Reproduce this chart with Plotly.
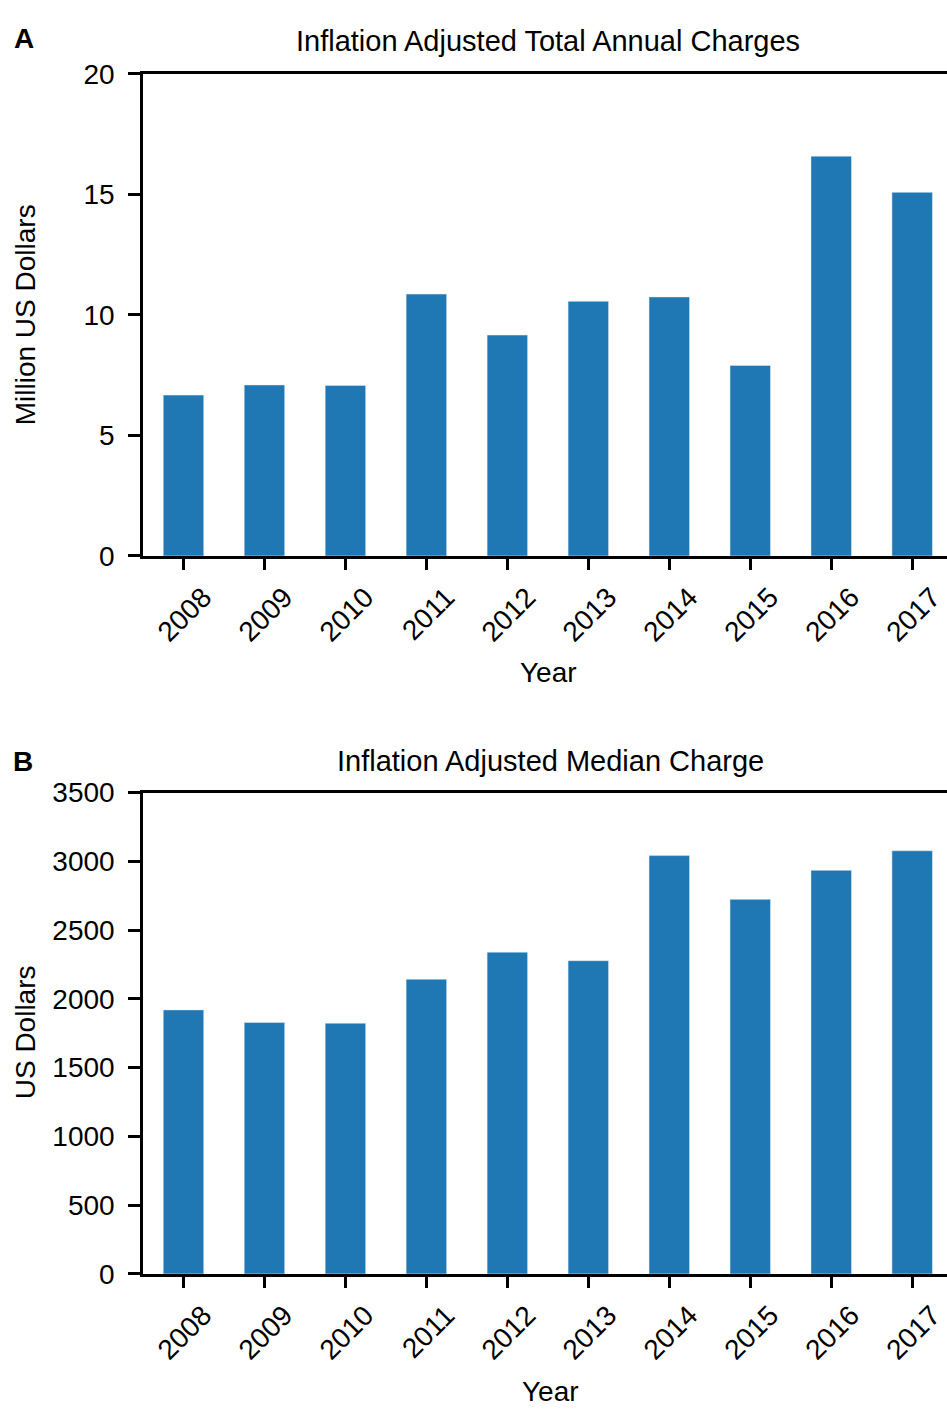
import plotly.graph_objects as go

years = ["2008", "2009", "2010", "2011", "2012", "2013", "2014", "2015", "2016", "2017"]
total_charges = [6.67, 7.09, 7.07, 10.86, 9.16, 10.56, 10.74, 7.90, 16.58, 15.08]
median_charge = [1920, 1828, 1823, 2143, 2340, 2278, 3042, 2724, 2935, 3077]

W, H = 947, 1420
FONT = "Liberation Sans, Arial, Helvetica, sans-serif"
FS = 28
BAR = "#1f77b4"

def px(x):
    return x / W

def py(y):
    return 1 - y / H

fig = go.Figure()
fig.add_trace(go.Bar(x=years, y=total_charges, marker_color=BAR, width=0.5,
                     xaxis="x", yaxis="y", showlegend=False))
fig.add_trace(go.Bar(x=years, y=median_charge, marker_color=BAR, width=0.5,
                     xaxis="x2", yaxis="y2", showlegend=False))

xcommon = dict(
    type="category", range=[-0.5, 9.43], showline=True, linecolor="black", linewidth=2.5,
    mirror=True, ticks="outside", ticklen=11, tickwidth=2.5, tickcolor="black",
    tickangle=-45, ticklabelshift=20, ticklabelstandoff=0,
    tickfont=dict(family=FONT, size=FS, color="black"), showgrid=False,
    domain=[143 / W, 1],
)
ycommon = dict(
    showline=True, linecolor="black", linewidth=2.5, mirror=False,
    ticks="outside", ticklen=12, tickwidth=2.5, tickcolor="black", ticklabelstandoff=8,
    tickfont=dict(family=FONT, size=FS, color="black"), showgrid=False, zeroline=False,
)

fig.update_layout(
    width=W, height=H,
    margin=dict(l=0, r=0, t=0, b=0),
    paper_bgcolor="white", plot_bgcolor="white",
    font=dict(family=FONT, size=FS, color="black"),
    bargap=0.5,
    xaxis=dict(**xcommon, anchor="y"),
    yaxis=dict(**ycommon, range=[0, 20], dtick=5, domain=[py(553), py(60)], anchor="x"),
    xaxis2=dict(**xcommon, anchor="y2"),
    yaxis2=dict(**ycommon, range=[0, 3500], dtick=500, domain=[py(1287), py(795)], anchor="x2"),
)

ann = [
    dict(text="<b>A</b>", x=px(24), y=py(24), size=FS),
    dict(text="<b>B</b>", x=px(23), y=py(763), size=FS),
    dict(text="Inflation Adjusted Total Annual Charges", x=px(548), y=py(27), size=29),
    dict(text="Inflation Adjusted Median Charge", x=px(550), y=py(763), size=29),
    dict(text="Year", x=px(548), y=py(672), size=FS),
    dict(text="Year", x=px(550), y=py(1407), size=FS),
]
for a in ann:
    fig.add_annotation(text=a["text"], x=a["x"], y=a["y"], xref="paper", yref="paper",
                       showarrow=False, xanchor="center", yanchor="middle",
                       font=dict(family=FONT, size=a["size"], color="black"))
for text, y in [("Million US Dollars", 307), ("US Dollars", 1040)]:
    fig.add_annotation(text=text, x=px(25), y=py(y), xref="paper", yref="paper",
                       showarrow=False, xanchor="center", yanchor="middle", textangle=-90,
                       font=dict(family=FONT, size=FS, color="black"))

fig.write_html(
    "out.html",
    config={"displayModeBar": False},
    post_script="document.body.style.margin='0';document.body.style.overflow='hidden';"
                "document.documentElement.style.overflow='hidden';window.scrollTo(0,0);",
)
